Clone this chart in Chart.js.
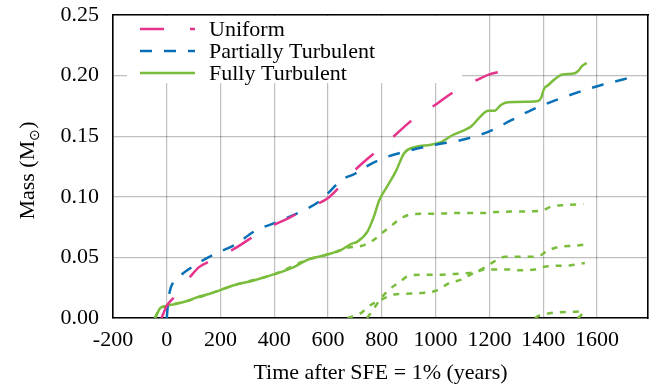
<!DOCTYPE html>
<html>
<head>
<meta charset="utf-8">
<script src="https://cdn.jsdelivr.net/npm/chart.js@4/dist/chart.umd.min.js"></script>
<style>
  html, body { margin: 0; padding: 0; background: #ffffff; }
  #c { display: block; }
</style>
</head>
<body>
<canvas id="c" width="654" height="387"></canvas>
<script>
// Accreted mass versus time after SFE = 1%, for three turbulence set-ups.
const uniformT = [-20, -12, -3, 10, 31, 60, 87, 120, 159, 200, 246, 300, 350, 400, 450, 500, 550, 600, 650, 700, 750, 800, 850, 900, 950, 1000, 1050, 1100, 1150, 1200, 1260];
const uniformM = [0, 0.004, 0.009, 0.013, 0.018, 0.027, 0.034, 0.042, 0.0467, 0.051, 0.0565, 0.064, 0.071, 0.077, 0.082, 0.088, 0.093, 0.099, 0.110, 0.122, 0.132, 0.141, 0.151, 0.161, 0.170, 0.176, 0.184, 0.191, 0.196, 0.201, 0.204];

const partialT = [0, 3, 8, 15, 30, 50, 80, 130, 190, 250, 330, 420, 510, 560, 600, 650, 700, 750, 820, 900, 1000, 1100, 1200, 1280, 1360, 1450, 1540, 1620, 1700, 1750];
const partialM = [0, 0.008, 0.018, 0.025, 0.031, 0.035, 0.040, 0.047, 0.054, 0.060, 0.072, 0.080, 0.089, 0.095, 0.103, 0.114, 0.119, 0.126, 0.133, 0.138, 0.143, 0.147, 0.154, 0.163, 0.172, 0.180, 0.187, 0.1925, 0.197, 0.2005];

const fullT = [-44, -35, -25, -10, 0, 40, 75, 124, 160, 199, 249, 323, 398, 473, 523, 591, 647, 685, 709, 747, 771, 790, 821, 852, 883, 921, 983, 1020, 1064, 1107, 1132, 1170, 1195, 1219, 1244, 1269, 1344, 1381, 1393, 1403, 1418, 1443, 1468, 1518, 1531, 1545, 1562];
const fullM = [0, 0.004, 0.008, 0.0095, 0.010, 0.012, 0.014, 0.018, 0.020, 0.023, 0.027, 0.031, 0.036, 0.042, 0.048, 0.052, 0.056, 0.061, 0.063, 0.0715, 0.084, 0.097, 0.109, 0.121, 0.136, 0.141, 0.143, 0.145, 0.151, 0.155, 0.158, 0.167, 0.171, 0.171, 0.176, 0.178, 0.1785, 0.179, 0.182, 0.189, 0.192, 0.197, 0.2007, 0.202, 0.204, 0.208, 0.2104];

// Individual sinks in the fully turbulent run
const sink1T = [-44, -25, 0, 75, 160, 249, 398, 523, 591, 647, 672, 728, 771, 809, 840, 877, 921, 995, 1083, 1182, 1226, 1350, 1393, 1431, 1481, 1550];
const sink1M = [0, 0.008, 0.010, 0.014, 0.020, 0.027, 0.036, 0.048, 0.052, 0.056, 0.058, 0.0597, 0.0646, 0.0715, 0.077, 0.083, 0.0858, 0.086, 0.0866, 0.0866, 0.0874, 0.088, 0.0885, 0.092, 0.0932, 0.094];
const sink2T = [672, 722, 753, 796, 840, 883, 946, 1008, 1051, 1095, 1145, 1182, 1219, 1257, 1319, 1381, 1412, 1456, 1518, 1555];
const sink2M = [0, 0.004, 0.010, 0.015, 0.019, 0.020, 0.0206, 0.023, 0.0289, 0.0316, 0.0376, 0.0415, 0.0467, 0.0505, 0.0505, 0.0508, 0.055, 0.0586, 0.0597, 0.0605];
const sink3T = [745, 765, 796, 830, 862, 896, 946, 1000, 1070, 1120, 1145, 1182, 1269, 1313, 1369, 1400, 1443, 1499, 1555];
const sink3M = [0, 0.006, 0.016, 0.024, 0.029, 0.0343, 0.0357, 0.0357, 0.0363, 0.037, 0.0376, 0.040, 0.040, 0.0393, 0.040, 0.042, 0.043, 0.0434, 0.0453];
const sink4T = [1369, 1390, 1420, 1460, 1520, 1550];
const sink4M = [0, 0.0025, 0.0038, 0.0048, 0.0052, 0.0055];
const sink5T = [1528, 1540, 1552, 1562];
const sink5M = [0, 0.002, 0.0055, 0.0068];

const xTicks = [-200, 0, 200, 400, 600, 800, 1000, 1200, 1400, 1600];
const yTicks = [0, 0.05, 0.10, 0.15, 0.20, 0.25];

const PINK = '#e5338c';
const BLUE = '#0a70b6';
const GREEN = '#7abd3d';
const SERIF = '"Liberation Serif", "Times New Roman", serif';

const pts = (t, m) => t.map((v, i) => ({ x: v, y: m[i] }));

function series(label, t, m, color, dash) {
  return {
    label, data: pts(t, m),
    borderColor: color, backgroundColor: color,
    borderWidth: 2.5, borderDash: dash,
    pointRadius: 0, fill: false,
    cubicInterpolationMode: 'monotone'
  };
}

const datasets = [
  series('Uniform', uniformT, uniformM, PINK, [24, 26]),
  series('Partially Turbulent', partialT, partialM, BLUE, [12, 12]),
  series('Fully Turbulent', fullT, fullM, GREEN, []),
  series('sink 1', sink1T, sink1M, GREEN, [6, 7]),
  series('sink 2', sink2T, sink2M, GREEN, [6, 7]),
  series('sink 3', sink3T, sink3M, GREEN, [6, 7]),
  series('sink 4', sink4T, sink4M, GREEN, [6, 7]),
  series('sink 5', sink5T, sink5M, GREEN, [6, 7])
];

// White key box and y-axis title
const keyPlugin = {
  id: 'keyBox',
  beforeDatasetsDraw(chart) {
    const { ctx, chartArea: a } = chart;
    ctx.save();
    ctx.fillStyle = '#ffffff';
    ctx.fillRect(a.left + 14, a.top + 1, 335, 67);
    for (let i = 0; i < 3; i++) {
      const ds = chart.data.datasets[i];
      const y = a.top + 14 + i * 22;
      ctx.beginPath();
      ctx.strokeStyle = ds.borderColor;
      ctx.lineWidth = ds.borderWidth;
      ctx.setLineDash(ds.borderDash);
      ctx.moveTo(a.left + 27, y);
      ctx.lineTo(a.left + 82, y);
      ctx.stroke();
      ctx.setLineDash([]);
      ctx.fillStyle = '#000';
      ctx.font = '22px ' + SERIF;
      ctx.textBaseline = 'middle';
      ctx.textAlign = 'left';
      ctx.fillText(ds.label, a.left + 96, y + 1);
    }
    // y-axis title with subscript
    ctx.translate(27, (a.top + a.bottom) / 2 + 4);
    ctx.rotate(-Math.PI / 2);
    ctx.fillStyle = '#000';
    ctx.textBaseline = 'alphabetic';
    ctx.textAlign = 'left';
    const parts = [['Mass (M', '22px ' + SERIF, 0], ['\u2299', '14px ' + SERIF, 5], [')', '22px ' + SERIF, 0]];
    let w = 0;
    for (const p of parts) { ctx.font = p[1]; w += ctx.measureText(p[0]).width; }
    let x = -w / 2;
    for (const p of parts) {
      ctx.font = p[1];
      ctx.fillText(p[0], x, 7 + p[2]);
      x += ctx.measureText(p[0]).width;
    }
    ctx.restore();
  }
};

// Bare axes on the top and right close the frame
const frameAxis = (position, min, max) => ({
  type: 'linear', position, min, max,
  grid: { display: false, drawTicks: false },
  ticks: { display: false },
  border: { display: true, color: '#000', width: 1.6 },
  afterFit: s => { if (s.isHorizontal()) s.height = 0; else s.width = 0; }
});

new Chart(document.getElementById('c'), {
  type: 'line',
  data: { datasets },
  options: {
    responsive: false,
    animation: false,
    devicePixelRatio: 1,
    layout: { padding: { top: 15, right: 6, left: 0, bottom: 0 } },
    plugins: { legend: { display: false }, tooltip: { enabled: false } },
    scales: {
      x: {
        type: 'linear', min: -200, max: 1790,
        afterBuildTicks: s => { s.ticks = xTicks.map(v => ({ value: v })); },
        afterFit: s => { s.height = 69; s.paddingLeft = 0; s.paddingRight = 0; },
        grid: { color: 'rgba(0,0,0,0.25)', lineWidth: 1.2, drawTicks: false },
        border: { display: true, color: '#000', width: 1.6 },
        ticks: { color: '#000', font: { family: SERIF, size: 22 }, padding: 9, maxRotation: 0, callback: v => String(v) },
        title: { display: true, text: 'Time after SFE = 1% (years)', color: '#000', font: { family: SERIF, size: 22 }, padding: { top: 0, bottom: 1 } }
      },
      y: {
        type: 'linear', min: 0, max: 0.25,
        afterBuildTicks: s => { s.ticks = yTicks.map(v => ({ value: v })); },
        afterFit: s => { s.width = 113; s.paddingTop = 0; s.paddingBottom = 0; },
        grid: { color: 'rgba(0,0,0,0.25)', lineWidth: 1.2, drawTicks: false },
        border: { display: true, color: '#000', width: 1.6 },
        ticks: { color: '#000', font: { family: SERIF, size: 22 }, padding: 14, callback: v => v.toFixed(2) }
      },
      xTop: frameAxis('top', -200, 1790),
      yRight: frameAxis('right', 0, 0.25)
    }
  },
  plugins: [keyPlugin]
});
</script>
</body>
</html>
